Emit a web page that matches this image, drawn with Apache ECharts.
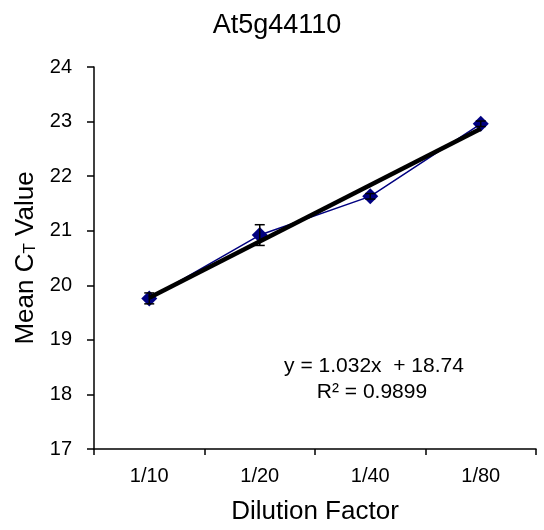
<!DOCTYPE html>
<html>
<head>
<meta charset="utf-8">
<script src="https://cdn.jsdelivr.net/npm/echarts@6/dist/echarts.min.js"></script>
<style>
  html, body { margin: 0; padding: 0; background: #fff; }
  #chart { width: 544px; height: 530px; }
</style>
</head>
<body>
<div id="chart"></div>
<script>
  // dilution series, mean Ct and its error
  let dilutions = ['1/10', '1/20', '1/40', '1/80'];
  let meanCt = [19.76, 20.92, 21.63, 22.96];
  let ctErr = [0.1, 0.19, 0.05, 0.05];
  // linear trendline end points (y = 1.032x + 18.74)
  let trendLine = [[0, 19.77], [3, 22.87]];
  let equationText = ['y = 1.032x  + 18.74', 'R² = 0.9899'];

  let chart = echarts.init(document.getElementById('chart'));
  let font = '"Liberation Sans", Arial, sans-serif';

  let errData = meanCt.map(function (v, i) {
    return [i, v - ctErr[i], v + ctErr[i]];
  });

  let option = {
    animation: false,
    title: {
      text: 'At5g44110',
      left: 272,
      top: 7,
      textAlign: 'center',
      textStyle: { fontFamily: font, fontSize: 27, fontWeight: 'normal', color: '#000' }
    },
    grid: { left: 94, right: 8, top: 67, bottom: 80 },
    xAxis: {
      type: 'category',
      data: dilutions,
      boundaryGap: true,
      name: 'Dilution Factor',
      nameLocation: 'middle',
      nameGap: 50,
      nameTextStyle: { fontFamily: font, fontSize: 26, color: '#000' },
      axisLine: { lineStyle: { color: '#000', width: 1.5 } },
      axisTick: { show: true, length: 6, lineStyle: { color: '#000', width: 1.5 } },
      axisLabel: { fontFamily: font, fontSize: 20, color: '#000', margin: 17 },
      splitLine: { show: false }
    },
    yAxis: {
      type: 'value',
      min: 17,
      max: 24,
      interval: 1,
      name: '{a|Mean C}{s|T}{a| Value}',
      nameLocation: 'middle',
      nameGap: 55,
      nameRotate: 90,
      nameTextStyle: {
        rich: {
          a: { fontFamily: font, fontSize: 26, color: '#000' },
          s: { fontFamily: font, fontSize: 17, color: '#000', verticalAlign: 'bottom', padding: [10, 0, 0, 0] }
        }
      },
      axisLine: { show: true, lineStyle: { color: '#000', width: 1.5 } },
      axisTick: { show: true, length: 7, lineStyle: { color: '#000', width: 1.5 } },
      axisLabel: { fontFamily: font, fontSize: 20, color: '#000', margin: 22 },
      splitLine: { show: false }
    },
    series: [{
      name: 'Mean Ct',
      type: 'line',
      data: meanCt,
      symbol: 'diamond',
      symbolSize: 16,
      z: 2,
      lineStyle: { color: '#000080', width: 1.5 },
      itemStyle: { color: '#000080' }
    }, {
      name: 'Error',
      type: 'custom',
      z: 3,
      data: errData,
      renderItem: function (params, api) {
        let x = api.value(0);
        let lo = api.coord([x, api.value(1)]);
        let hi = api.coord([x, api.value(2)]);
        let w = 5;
        let style = { stroke: '#000', lineWidth: 1.5 };
        return {
          type: 'group',
          children: [
            { type: 'line', shape: { x1: lo[0], y1: lo[1], x2: hi[0], y2: hi[1] }, style: style },
            { type: 'line', shape: { x1: lo[0] - w, y1: lo[1], x2: lo[0] + w, y2: lo[1] }, style: style },
            { type: 'line', shape: { x1: hi[0] - w, y1: hi[1], x2: hi[0] + w, y2: hi[1] }, style: style }
          ]
        };
      }
    }, {
      name: 'Trend',
      type: 'line',
      data: trendLine,
      symbol: 'none',
      z: 4,
      lineStyle: { color: '#000', width: 4.5 }
    }],
    graphic: [{
      type: 'text',
      x: 374,
      y: 366,
      style: { text: equationText[0], font: '21px ' + font, fill: '#000', align: 'center', verticalAlign: 'middle' }
    }, {
      type: 'text',
      x: 372,
      y: 392,
      style: { text: equationText[1], font: '21px ' + font, fill: '#000', align: 'center', verticalAlign: 'middle' }
    }]
  };

  chart.setOption(option);
</script>
</body>
</html>
